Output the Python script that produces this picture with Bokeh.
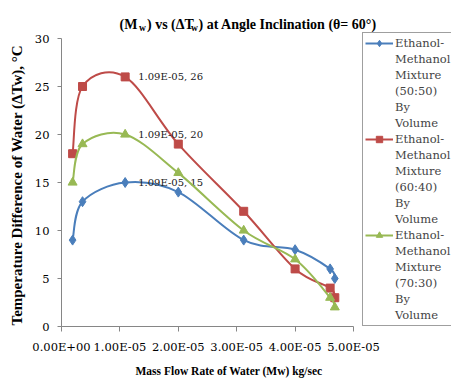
from bokeh.plotting import figure
from bokeh.models import Legend, LegendItem, Range1d, FixedTicker, Label, Title
from bokeh.core.properties import value
from bokeh.embed import file_html
from bokeh.resources import INLINE

# ---- data ----
mass_flow = [1.9e-6, 3.6e-6, 1.09e-5, 2.0e-5, 3.12e-5, 4.0e-5, 4.6e-5, 4.68e-5]
dT_50_50 = [9, 13, 15, 14, 9, 8, 6, 5]
dT_60_40 = [18, 25, 26, 19, 12, 6, 4, 3]
dT_70_30 = [15, 19, 20, 16, 10, 7, 3, 2]
series_names = [
    ["Ethanol-", "Methanol", "Mixture", "(50:50)", "By", "Volume"],
    ["Ethanol-", "Methanol", "Mixture", "(60:40)", "By", "Volume"],
    ["Ethanol-", "Methanol", "Mixture", "(70:30)", "By", "Volume"],
]
x_ticks = [0, 1e-5, 2e-5, 3e-5, 4e-5, 5e-5]
x_tick_labels = ["0.00E+00", "1.00E-05", "2.00E-05", "3.00E-05", "4.00E-05", "5.00E-05"]
y_ticks = [0, 5, 10, 15, 20, 25, 30]
x_axis_max = 5e-5
y_axis_max = 30
label_index = 2
title_pieces = ["(M", "w", ") vs  (\u0394T", "w", ") at Angle Inclination (\u03b8= 60\u00b0)"]
x_label = "Mass Flow Rate of Water (Mw) kg/sec"
y_label = "Temperature Difference of Water (\u0394Tw), \u00b0C"

colors = ["#4a7ebb", "#be4b48", "#98b954"]
markers = ["diamond", "square", "triangle"]
msizes = [10, 8, 9]

SERIF = "DejaVu Serif"
BOLD_SERIF = "Liberation Serif"

# layout: canvas 451x382, frame from x=61 to the right edge, from top to y=326
W, H = 451, 382
LEFT, BOTTOM = 61, 56
FW, FH = W - LEFT, H - BOTTOM
AXIS_W, AXIS_H = 292, 288   # pixel length of the drawn axes

p = figure(width=W, height=H, output_backend="svg", toolbar_location=None,
           x_range=Range1d(0, x_axis_max * FW / AXIS_W),
           y_range=Range1d(0, y_axis_max * FH / AXIS_H),
           min_border_left=LEFT, min_border_right=0, min_border_top=0, min_border_bottom=BOTTOM)
p.outline_line_color = None
p.grid.visible = False

for ax in (p.xaxis[0], p.yaxis[0]):
    ax.axis_line_color = "#868686"
    ax.major_tick_line_color = "#868686"
    ax.minor_tick_line_color = None
    ax.major_tick_in = 0
    ax.major_label_text_font = SERIF
    ax.major_label_text_font_size = "11.5px"
    ax.major_label_text_color = "#000000"

p.xaxis[0].ticker = FixedTicker(ticks=x_ticks)
p.xaxis[0].bounds = (0, x_axis_max)
p.xaxis[0].major_label_overrides = {t: l for t, l in zip(x_ticks, x_tick_labels)}
p.xaxis[0].major_tick_out = 5
p.xaxis[0].major_label_standoff = 8
p.yaxis[0].ticker = FixedTicker(ticks=y_ticks)
p.yaxis[0].bounds = (0, y_axis_max)
p.yaxis[0].major_tick_out = 4
p.yaxis[0].major_label_standoff = 8


def smooth(xs, ys):
    n = len(xs)
    out = dict(x0=[], y0=[], x1=[], y1=[], cx0=[], cy0=[], cx1=[], cy1=[])
    for i in range(n - 1):
        a = max(i - 1, 0)
        d = min(i + 2, n - 1)
        out["x0"].append(xs[i]); out["y0"].append(ys[i])
        out["x1"].append(xs[i + 1]); out["y1"].append(ys[i + 1])
        out["cx0"].append(xs[i] + (xs[i + 1] - xs[a]) / 6)
        out["cy0"].append(ys[i] + (ys[i + 1] - ys[a]) / 6)
        out["cx1"].append(xs[i + 1] - (xs[d] - xs[i]) / 6)
        out["cy1"].append(ys[i + 1] - (ys[d] - ys[i]) / 6)
    return out


blank = p.line([], [], line_alpha=0)
items = []
for ys, c, m, s, lines in zip([dT_50_50, dT_60_40, dT_70_30], colors, markers, msizes, series_names):
    seg = smooth(mass_flow, ys)
    p.bezier(x0=seg["x0"], y0=seg["y0"], x1=seg["x1"], y1=seg["y1"],
             cx0=seg["cx0"], cy0=seg["cy0"], cx1=seg["cx1"], cy1=seg["cy1"],
             line_color=c, line_width=2)
    r_sc = p.scatter(mass_flow, ys, marker=m, size=s, fill_color=c, line_color=c)
    # legend proxy for the connecting line (hidden in the plot itself)
    r_ln = p.line(mass_flow, ys, line_color=c, line_width=2, visible=False)
    items.append(LegendItem(label=lines[0], renderers=[r_ln, r_sc]))
    for ln in lines[1:]:
        items.append(LegendItem(label=ln, renderers=[blank]))
    lx = mass_flow[label_index]
    ly = ys[label_index]
    p.text(x=[lx], y=[ly], text=[f"{lx:.2E}, {ly}"], x_offset=13,
           text_font=value(SERIF), text_font_size="10px", text_color="#202020",
           text_baseline="middle", text_align="left")

legend = Legend(items=items, location=(301, 0))
legend.label_text_font = SERIF
legend.label_text_font_size = "11.5px"
legend.glyph_width = 28
legend.glyph_height = 16
legend.label_height = 16
legend.label_standoff = 2
legend.padding = 2
legend.spacing = 0
legend.margin = 0
legend.inactive_fill_alpha = 0
legend.border_line_color = "#404040"
legend.border_line_width = 1
p.add_layout(legend, "center")

# title pieces (screen units relative to the frame's bottom-left)
t_x = [58, 77.5, 85.5, 129.5, 137]
t_y = [302, 299, 302, 299, 302]
t_fs = ["14px", "9.5px", "14px", "9.5px", "14px"]
for t, x, y, fs in zip(title_pieces, t_x, t_y, t_fs):
    p.add_layout(Label(x=x, y=y, x_units="screen", y_units="screen", text=t,
                       text_font=BOLD_SERIF, text_font_style="bold", text_font_size=fs,
                       text_align="left", text_baseline="alphabetic", text_color="#000000"))

# axis titles
p.add_layout(Title(text=y_label, align="left", offset=1, vertical_align="middle", standoff=12,
                   text_font=BOLD_SERIF, text_font_style="bold", text_font_size="15px",
                   text_color="#000000"), "left")
p.add_layout(Title(text=x_label, align="left", offset=74, vertical_align="bottom", standoff=12,
                   text_font=BOLD_SERIF, text_font_style="bold", text_font_size="11.5px",
                   text_color="#000000"), "below")

open("out.html", "w").write(file_html(p, INLINE))
